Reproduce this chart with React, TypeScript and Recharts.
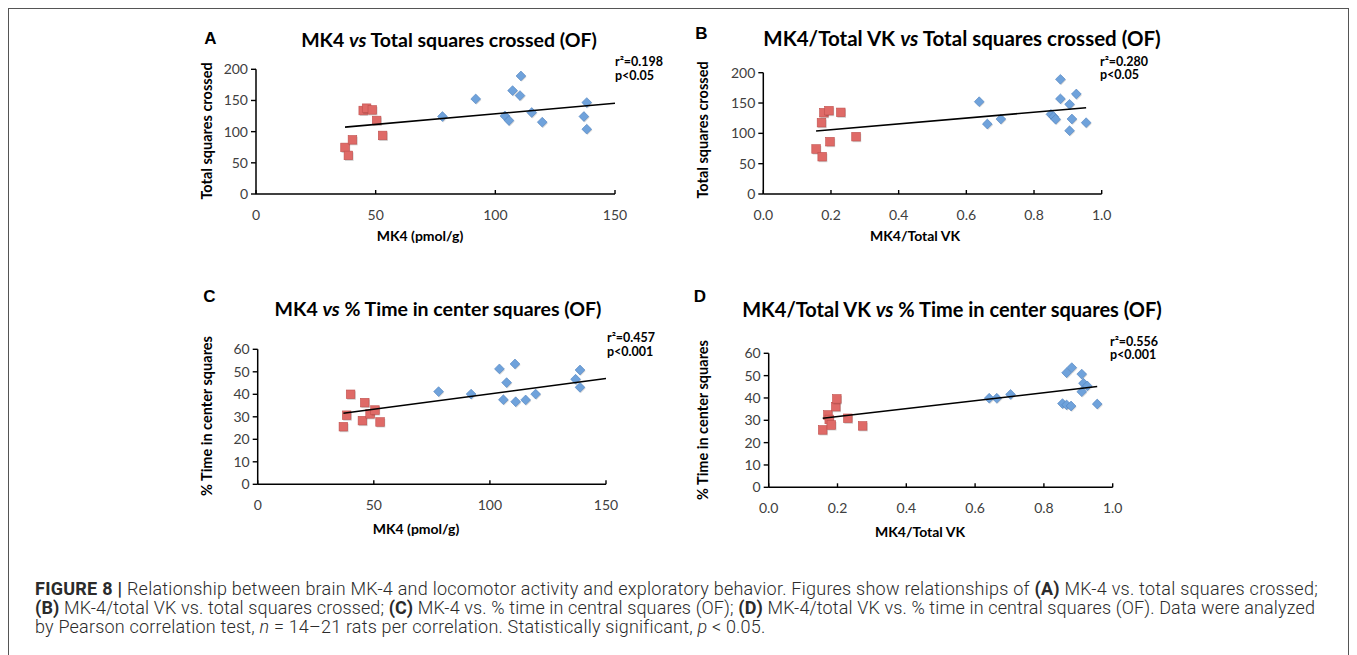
import React from 'react';
import { ScatterChart, Scatter, XAxis, YAxis } from 'recharts';

// ---------- Data ----------
// Panel A: MK4 (pmol/g) vs Total squares crossed
const aRedX = [37.2, 38.6, 40.3, 44.8, 46.2, 48.6, 50.4, 52.9];
const aRedY = [74.7, 61.9, 86.9, 133.9, 137.6, 134.9, 117.9, 93.9];
const aBlueX = [77.9, 91.8, 104.0, 105.7, 107.2, 110.3, 110.7, 115.2, 119.6, 137.0, 138.2, 138.2];
const aBlueY = [124.3, 152.5, 125.3, 117.9, 165.9, 157.9, 189.3, 130.7, 115.2, 124.3, 146.7, 104.0];
const aTrendX = [37.2, 150];
const aTrendY = [107.2, 145.6];

// Panel B: MK4/Total VK vs Total squares crossed
const bRedX = [0.156, 0.174, 0.172, 0.179, 0.194, 0.197, 0.229, 0.274];
const bRedY = [74.2, 61.5, 117.6, 134.0, 137.4, 86.3, 134.6, 94.5];
const bBlueX = [0.638, 0.662, 0.702, 0.85, 0.858, 0.864, 0.878, 0.878, 0.905, 0.905, 0.912, 0.925, 0.954];
const bBlueY = [152.2, 115.4, 123.6, 131.4, 127.5, 123.2, 189.1, 156.9, 147.9, 104.4, 123.7, 164.9, 117.6];
const bTrendX = [0.156, 0.954];
const bTrendY = [103.8, 142.3];

// Panel C: MK4 (pmol/g) vs % Time in center squares
const cRedX = [36.9, 38.3, 40.0, 45.1, 46.1, 48.4, 50.5, 52.7];
const cRedY = [25.6, 30.7, 40.0, 28.3, 36.3, 31.3, 33.0, 27.7];
const cBlueX = [77.9, 91.9, 104.1, 105.8, 107.2, 110.8, 111.1, 115.4, 119.7, 136.9, 138.8, 138.8];
const cBlueY = [41.2, 40.1, 51.3, 37.6, 45.2, 53.5, 36.7, 37.5, 40.1, 46.7, 50.8, 43.1];
const cTrendX = [36.9, 150];
const cTrendY = [31.6, 47.0];

// Panel D: MK4/Total VK vs % Time in center squares
const dRedX = [0.157, 0.172, 0.176, 0.182, 0.195, 0.198, 0.23, 0.273];
const dRedY = [25.7, 32.4, 30.4, 27.9, 36.1, 39.6, 30.9, 27.5];
const dBlueX = [0.641, 0.663, 0.703, 0.854, 0.866, 0.879, 0.866, 0.881, 0.91, 0.915, 0.926, 0.91, 0.955];
const dBlueY = [39.9, 39.9, 41.6, 37.5, 36.9, 36.4, 51.3, 53.6, 50.7, 46.6, 45.4, 42.8, 37.3];
const dTrendX = [0.157, 0.955];
const dTrendY = [30.9, 45.1];

// Axis ticks
const mk4Ticks = [0, 50, 100, 150];
const ratioTicks = [0, 0.2, 0.4, 0.6, 0.8, 1.0];
const squaresTicks = [0, 50, 100, 150, 200];
const timeTicks = [0, 10, 20, 30, 40, 50, 60];

// Texts
const titles = {
  A: ['MK4 ', 'vs', ' Total squares crossed (OF)'],
  B: ['MK4/Total VK ', 'vs', ' Total squares crossed (OF)'],
  C: ['MK4 ', 'vs', ' % Time in center squares (OF)'],
  D: ['MK4/Total VK ', 'vs', ' % Time in center squares (OF)'],
};
const stats = {
  A: ['r²=0.198', 'p<0.05'],
  B: ['r²=0.280', 'p<0.05'],
  C: ['r²=0.457', 'p<0.001'],
  D: ['r²=0.556', 'p<0.001'],
};
const xTitleMK4 = 'MK4 (pmol/g)';
const xTitleRatio = 'MK4/Total VK';
const yTitleSquares = 'Total squares crossed';
const yTitleTime = '% Time in center squares';

const zip = (xs: number[], ys: number[]) => xs.map((x, i) => ({ x, y: ys[i] }));

// ---------- Styling ----------
const OX = 9; // page offset of container content
const OY = 9;
const CHART_FONT = 'Lato, "Open Sans", sans-serif';

const RedSquare = (p: any) => {
  const { cx, cy } = p;
  if (cx == null || cy == null) return <g />;
  const s = 8.6;
  return (
    <g>
      <rect x={cx - s / 2 + 0.9} y={cy - s / 2 + 1.2} width={s} height={s} fill="rgba(0,0,0,0.18)" />
      <rect x={cx - s / 2} y={cy - s / 2} width={s} height={s} fill="#DF6A67" stroke="#C0504D" strokeWidth={0.6} />
    </g>
  );
};

const BlueDiamond = (p: any) => {
  const { cx, cy } = p;
  if (cx == null || cy == null) return <g />;
  const r = 4.9;
  return (
    <g>
      <path d={`M${cx + 0.8},${cy - r + 1} L${cx + r + 0.8},${cy + 1} L${cx + 0.8},${cy + r + 1} L${cx - r + 0.8},${cy + 1} Z`} fill="rgba(0,0,0,0.15)" />
      <path d={`M${cx},${cy - r} L${cx + r},${cy} L${cx},${cy + r} L${cx - r},${cy} Z`} fill="#6FA2DB" stroke="#4F81BD" strokeWidth={0.6} />
    </g>
  );
};

const NoShape = () => <g />;

const makeXTick = (fmt: (v: number) => string) => (props: any) => {
  const { x, y, payload } = props;
  return (
    <g>
      <line x1={x} x2={x} y1={y} y2={y - 4} stroke="#000" strokeWidth={1.4} />
      <text x={x} y={y + 20} textAnchor="middle" dominantBaseline="central" fill="#404040" fontSize={14} fontFamily={CHART_FONT}>
        {fmt(payload.value)}
      </text>
    </g>
  );
};

type PanelProps = {
  box: { left: number; top: number; width: number; height: number };
  plot: { x0: number; x1: number; yTop: number; yBottom: number };
  xDomain: [number, number];
  xTicks: number[];
  xFmt: (v: number) => string;
  yDomain: [number, number];
  yTicks: number[];
  red: { x: number; y: number }[];
  blue: { x: number; y: number }[];
  trend: { x: number; y: number }[];
};

const Y_W = 40;
const X_H = 30;

const Panel = ({ box, plot, xDomain, xTicks, xFmt, yDomain, yTicks, red, blue, trend }: PanelProps) => {
  const margin = {
    left: plot.x0 - box.left - Y_W,
    right: box.left + box.width - plot.x1,
    top: plot.yTop - box.top,
    bottom: box.top + box.height - plot.yBottom - X_H,
  };
  return (
    <div style={{ position: 'absolute', left: box.left - OX, top: box.top - OY }}>
      <ScatterChart width={box.width} height={box.height} margin={margin}>
        <XAxis
          type="number"
          dataKey="x"
          domain={xDomain}
          ticks={xTicks}
          interval={0}
          allowDataOverflow
          height={X_H}
          axisLine={{ stroke: '#000', strokeWidth: 1.5 }}
          tickLine={false}
          tickSize={0}
          tickMargin={0}
          tick={makeXTick(xFmt)}
        />
        <YAxis
          type="number"
          dataKey="y"
          domain={yDomain}
          ticks={yTicks}
          interval={0}
          allowDataOverflow
          width={Y_W}
          axisLine={{ stroke: '#000', strokeWidth: 1.5 }}
          tickLine={{ stroke: '#000', strokeWidth: 1.4 }}
          tickSize={5}
          tickMargin={3}
          tick={{ fill: '#404040', fontSize: 14, fontFamily: CHART_FONT }}
        />
        <Scatter data={red} shape={RedSquare} isAnimationActive={false} />
        <Scatter data={blue} shape={BlueDiamond} isAnimationActive={false} />
        <Scatter
          data={trend}
          shape={NoShape}
          line={{ stroke: '#000', strokeWidth: 1.6 }}
          lineType="joint"
          isAnimationActive={false}
        />
      </ScatterChart>
    </div>
  );
};

const abs = (x: number, y: number, extra: React.CSSProperties = {}): React.CSSProperties => ({
  position: 'absolute',
  left: x - OX,
  top: y - OY,
  whiteSpace: 'nowrap',
  ...extra,
});

const Title = ({ x, y, parts, size = 19.5 }: { x: number; y: number; parts: string[]; size?: number }) => (
  <div style={abs(x, y, { transform: 'translate(-50%,-50%)', fontFamily: CHART_FONT, fontWeight: 700, fontSize: size, color: '#000', lineHeight: '22px' })}>
    {parts[0]}
    <i>{parts[1]}</i>
    {parts[2]}
  </div>
);

const Letter = ({ x, y, t }: { x: number; y: number; t: string }) => (
  <div style={abs(x, y, { transform: 'translate(-50%,-50%)', fontFamily: '"Liberation Sans", Arial, sans-serif', fontWeight: 700, fontSize: 17, color: '#000', lineHeight: '20px' })}>
    {t}
  </div>
);

const Stats = ({ x, y, lines }: { x: number; y: number; lines: string[] }) => (
  <div style={abs(x, y - 7, { fontFamily: CHART_FONT, fontWeight: 700, fontSize: 12.5, color: '#000', lineHeight: '13.5px' })}>
    <div>{lines[0]}</div>
    <div>{lines[1]}</div>
  </div>
);

const XTitle = ({ x, y, t }: { x: number; y: number; t: string }) => (
  <div style={abs(x, y, { transform: 'translate(-50%,-50%)', fontFamily: CHART_FONT, fontWeight: 700, fontSize: 14, color: '#000', lineHeight: '16px' })}>
    {t}
  </div>
);

const YTitle = ({ x, y, t }: { x: number; y: number; t: string }) => (
  <div style={abs(x, y, { transform: 'translate(-50%,-50%) rotate(-90deg)', fontFamily: CHART_FONT, fontWeight: 700, fontSize: 14.5, color: '#000', lineHeight: '16px' })}>
    {t}
  </div>
);

const fmtInt = (v: number) => String(v);
const fmt1 = (v: number) => v.toFixed(1);

const CAPTION_FONT = 'Roboto, "Liberation Sans", sans-serif';

export default function App() {
  return (
    <div
      style={{
        position: 'relative',
        width: 1339,
        height: 660,
        border: '1px solid #555',
        background: '#fff',
      }}
    >
      {/* Panel A */}
      <Letter x={210.5} y={39} t="A" />
      <Title x={449} y={40} parts={titles.A} />
      <Panel
        box={{ left: 150, top: 20, width: 520, height: 220 }}
        plot={{ x0: 256, x1: 615, yTop: 69.3, yBottom: 194 }}
        xDomain={[0, 150]}
        xTicks={mk4Ticks}
        xFmt={fmtInt}
        yDomain={[0, 200]}
        yTicks={squaresTicks}
        red={zip(aRedX, aRedY)}
        blue={zip(aBlueX, aBlueY)}
        trend={zip(aTrendX, aTrendY)}
      />
      <Stats x={615} y={62} lines={stats.A} />
      <XTitle x={420} y={236} t={xTitleMK4} />
      <YTitle x={207} y={131} t={yTitleSquares} />

      {/* Panel B */}
      <Letter x={701.5} y={34} t="B" />
      <Title x={962} y={38} parts={titles.B} size={20.5} />
      <Panel
        box={{ left: 660, top: 20, width: 520, height: 220 }}
        plot={{ x0: 763.3, x1: 1101.7, yTop: 72.7, yBottom: 194 }}
        xDomain={[0, 1]}
        xTicks={ratioTicks}
        xFmt={fmt1}
        yDomain={[0, 200]}
        yTicks={squaresTicks}
        red={zip(bRedX, bRedY)}
        blue={zip(bBlueX, bBlueY)}
        trend={zip(bTrendX, bTrendY)}
      />
      <Stats x={1100} y={61.7} lines={stats.B} />
      <XTitle x={915} y={236} t={xTitleRatio} />
      <YTitle x={703} y={130} t={yTitleSquares} />

      {/* Panel C */}
      <Letter x={209.3} y={297.3} t="C" />
      <Title x={438} y={309} parts={titles.C} />
      <Panel
        box={{ left: 150, top: 300, width: 520, height: 220 }}
        plot={{ x0: 257.7, x1: 606, yTop: 349.3, yBottom: 484.3 }}
        xDomain={[0, 150]}
        xTicks={mk4Ticks}
        xFmt={fmtInt}
        yDomain={[0, 60]}
        yTicks={timeTicks}
        red={zip(cRedX, cRedY)}
        blue={zip(cBlueX, cBlueY)}
        trend={zip(cTrendX, cTrendY)}
      />
      <Stats x={607} y={338} lines={stats.C} />
      <XTitle x={416} y={529} t={xTitleMK4} />
      <YTitle x={207} y={416} t={yTitleTime} />

      {/* Panel D */}
      <Letter x={700} y={297.3} t="D" />
      <Title x={952} y={309.3} parts={titles.D} size={20} />
      <Panel
        box={{ left: 660, top: 300, width: 520, height: 220 }}
        plot={{ x0: 768.7, x1: 1112.7, yTop: 353.3, yBottom: 487.3 }}
        xDomain={[0, 1]}
        xTicks={ratioTicks}
        xFmt={fmt1}
        yDomain={[0, 60]}
        yTicks={timeTicks}
        red={zip(dRedX, dRedY)}
        blue={zip(dBlueX, dBlueY)}
        trend={zip(dTrendX, dTrendY)}
      />
      <Stats x={1110} y={341.5} lines={stats.D} />
      <XTitle x={920} y={532} t={xTitleRatio} />
      <YTitle x={703} y={420} t={yTitleTime} />

      {/* Caption */}
      <div
        style={abs(35, 579, {
          fontFamily: CAPTION_FONT,
          fontWeight: 300,
          fontSize: 18,
          lineHeight: '19px',
          color: '#2b2b2b',
        })}
      >
        <div style={{ whiteSpace: 'nowrap', letterSpacing: 0.25 }}>
          <b style={{ fontWeight: 700 }}>FIGURE 8 |</b> Relationship between brain MK-4 and locomotor activity and exploratory behavior. Figures show relationships of <b style={{ fontWeight: 700 }}>(A)</b> MK-4 vs. total squares crossed;
        </div>
        <div style={{ whiteSpace: 'nowrap', letterSpacing: 0.13 }}>
          <b style={{ fontWeight: 700 }}>(B)</b> MK-4/total VK vs. total squares crossed; <b style={{ fontWeight: 700 }}>(C)</b> MK-4 vs. % time in central squares (OF); <b style={{ fontWeight: 700 }}>(D)</b> MK-4/total VK vs. % time in central squares (OF). Data were analyzed
        </div>
        <div style={{ whiteSpace: 'nowrap', letterSpacing: 0.2 }}>
          by Pearson correlation test, <i>n</i> = 14–21 rats per correlation. Statistically significant, <i>p</i> {'<'} 0.05.
        </div>
      </div>
    </div>
  );
}
